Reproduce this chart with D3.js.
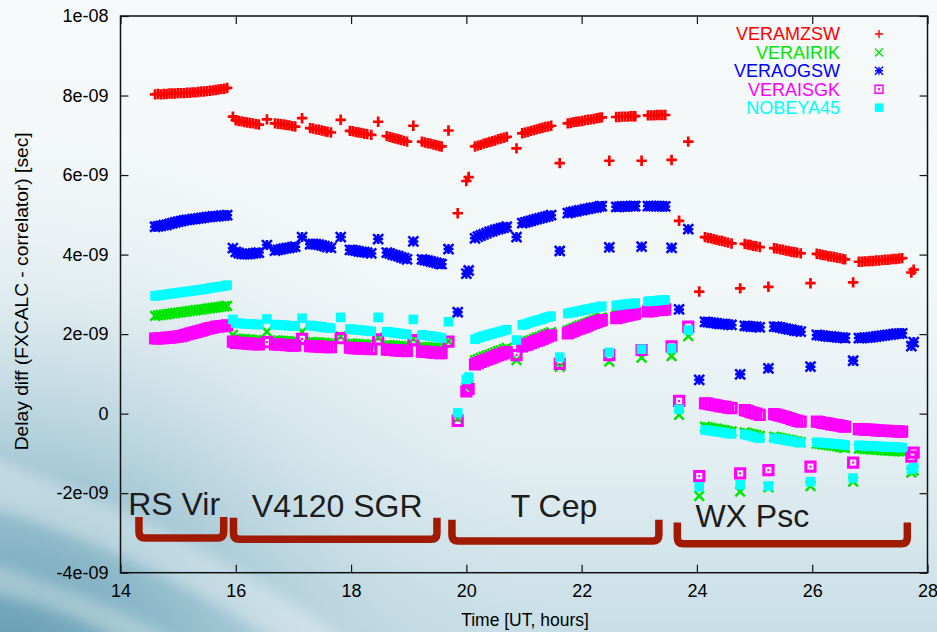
<!DOCTYPE html>
<html>
<head>
<meta charset="utf-8">
<script src="https://cdn.jsdelivr.net/npm/d3@7"></script>
<style>
  html, body { margin: 0; padding: 0; background: #f5f9fa; }
  svg { display: block; font-family: "Liberation Sans", Arial, Helvetica, sans-serif; }
</style>
</head>
<body>
<svg id="chart" width="937" height="632"></svg>
<script>
// Observation time (UT hours), shared by every baseline
const hours = [
  14.60,14.65,14.70,14.75,14.80,14.85,14.90,14.95,15.00,15.05,15.10,15.15,15.20,15.25,15.30,15.35,15.40,15.45,15.50,15.55,15.60,15.65,15.70,15.75,15.80,15.85,
  15.95,
  16.00,16.05,16.10,16.15,16.20,16.25,16.30,16.35,16.40,
  16.54,
  16.68,16.73,16.78,16.83,16.88,16.93,16.98,17.03,
  17.15,
  17.29,17.34,17.39,17.44,17.49,17.54,17.59,17.65,
  17.82,
  17.98,18.03,18.08,18.13,18.18,18.23,18.28,18.35,
  18.47,
  18.62,18.67,18.72,18.77,18.82,18.87,18.92,18.97,
  19.08,
  19.23,19.28,19.33,19.38,19.43,19.48,19.53,19.57,
  19.69,
  19.85,20.00,20.04,
  20.15,20.20,20.25,20.30,20.35,20.40,20.45,20.50,20.55,20.60,20.65,20.70,
  20.87,
  20.97,21.02,21.07,21.12,21.17,21.22,21.27,21.32,21.37,21.42,21.47,
  21.62,
  21.76,21.81,21.86,21.91,21.96,22.01,22.06,22.11,22.16,22.21,22.26,22.31,22.35,
  22.48,
  22.60,22.65,22.70,22.75,22.80,22.85,22.90,22.93,
  23.04,
  23.15,23.20,23.25,23.30,23.35,23.40,23.45,
  23.56,
  23.69,23.85,
  24.04,
  24.14,24.19,24.24,24.29,24.34,24.39,24.44,24.49,24.54,24.60,
  24.75,
  24.83,24.88,24.93,24.98,25.03,25.09,
  25.24,
  25.34,25.39,25.44,25.49,25.54,25.59,25.64,25.69,25.74,25.80,
  25.97,
  26.08,26.13,26.18,26.23,26.28,26.33,26.38,26.43,26.48,26.53,26.57,
  26.71,
  26.81,26.86,26.91,26.96,27.01,27.06,27.11,27.16,27.21,27.26,27.31,27.36,27.41,27.46,27.51,27.56,
  27.72,27.76
];

// Delay differences per station, in units of 1e-09 s
const veramzsw = [
  8.03,8.04,8.03,8.04,8.04,8.05,8.05,8.05,8.06,8.06,8.06,8.07,8.07,8.08,8.08,8.09,8.10,8.10,8.11,8.12,8.13,8.14,8.15,8.16,8.17,8.19,
  7.47,
  7.38,7.36,7.35,7.33,7.32,7.31,7.30,7.28,7.27,
  7.40,
  7.30,7.29,7.28,7.27,7.26,7.25,7.23,7.22,
  7.43,
  7.18,7.17,7.15,7.14,7.12,7.10,7.09,7.07,
  7.39,
  7.11,7.10,7.08,7.07,7.06,7.04,7.03,7.01,
  7.34,
  6.98,6.96,6.94,6.92,6.90,6.88,6.86,6.84,
  7.24,
  6.84,6.82,6.80,6.79,6.77,6.75,6.73,6.72,
  7.12,
  5.04,5.85,5.95,
  6.72,6.74,6.76,6.79,6.81,6.83,6.85,6.87,6.90,6.92,6.94,6.96,
  6.67,
  7.05,7.07,7.09,7.11,7.13,7.15,7.17,7.19,7.21,7.22,7.24,
  6.30,
  7.30,7.31,7.33,7.34,7.35,7.36,7.38,7.39,7.40,7.41,7.43,7.44,7.45,
  6.36,
  7.46,7.46,7.47,7.47,7.47,7.48,7.48,7.48,
  6.36,
  7.50,7.50,7.50,7.51,7.51,7.51,7.51,
  6.38,
  4.85,6.84,
  3.07,
  4.44,4.42,4.41,4.39,4.37,4.35,4.34,4.32,4.30,4.28,
  3.15,
  4.27,4.25,4.24,4.22,4.21,4.19,
  3.19,
  4.16,4.15,4.13,4.12,4.10,4.09,4.07,4.06,4.05,4.03,
  3.28,
  4.02,4.01,3.99,3.98,3.96,3.95,3.94,3.92,3.91,3.89,3.88,
  3.30,
  3.82,3.82,3.83,3.83,3.84,3.84,3.85,3.85,3.86,3.87,3.87,3.88,3.89,3.89,3.90,3.91,
  3.55,3.62
];

const verairik = [
  2.46,2.47,2.48,2.49,2.50,2.51,2.52,2.53,2.54,2.55,2.56,2.57,2.58,2.59,2.60,2.61,2.62,2.63,2.64,2.65,2.66,2.67,2.68,2.69,2.70,2.71,
  1.98,
  1.88,1.88,1.87,1.87,1.86,1.86,1.85,1.85,1.84,
  2.06,
  1.84,1.84,1.83,1.83,1.82,1.82,1.81,1.81,
  2.06,
  1.80,1.80,1.79,1.79,1.78,1.78,1.77,1.77,
  1.94,
  1.76,1.76,1.75,1.75,1.74,1.74,1.73,1.73,
  1.92,
  1.72,1.72,1.71,1.71,1.70,1.70,1.69,1.69,
  1.88,
  1.68,1.68,1.67,1.66,1.66,1.65,1.64,1.64,
  1.82,
  -0.12,0.66,0.72,
  1.34,1.37,1.40,1.43,1.46,1.48,1.51,1.54,1.57,1.59,1.62,1.65,
  1.35,
  1.77,1.80,1.82,1.85,1.88,1.91,1.93,1.96,1.99,2.02,2.05,
  1.18,
  2.09,2.12,2.15,2.18,2.21,2.23,2.26,2.29,2.32,2.35,2.37,2.40,2.42,
  1.31,
  2.47,2.49,2.51,2.52,2.54,2.55,2.57,2.58,
  1.41,
  2.63,2.64,2.65,2.65,2.66,2.66,2.67,
  1.45,
  -0.03,1.95,
  -2.07,
  -0.33,-0.34,-0.36,-0.37,-0.38,-0.40,-0.41,-0.42,-0.44,-0.45,
  -1.96,
  -0.47,-0.49,-0.51,-0.52,-0.54,-0.56,
  -1.85,
  -0.58,-0.60,-0.61,-0.63,-0.64,-0.66,-0.67,-0.69,-0.70,-0.72,
  -1.82,
  -0.75,-0.76,-0.77,-0.78,-0.79,-0.80,-0.81,-0.82,-0.84,-0.85,-0.86,
  -1.71,
  -0.88,-0.88,-0.89,-0.89,-0.90,-0.90,-0.91,-0.91,-0.92,-0.92,-0.93,-0.93,-0.94,-0.94,-0.95,-0.95,
  -1.48,-1.43
];

const veraogsw = [
  4.70,4.71,4.72,4.74,4.75,4.77,4.79,4.81,4.83,4.84,4.86,4.87,4.88,4.89,4.90,4.91,4.92,4.93,4.94,4.95,4.96,4.96,4.97,4.98,4.98,4.99,
  4.16,
  4.07,4.04,4.02,4.01,4.01,4.02,4.03,4.04,4.05,
  4.24,
  4.10,4.12,4.13,4.15,4.16,4.17,4.19,4.20,
  4.44,
  4.26,4.27,4.26,4.25,4.23,4.21,4.19,4.17,
  4.44,
  4.12,4.11,4.10,4.08,4.07,4.06,4.05,4.03,
  4.39,
  4.05,4.03,4.00,3.98,3.96,3.93,3.91,3.88,
  4.33,
  3.88,3.86,3.85,3.83,3.81,3.79,3.77,3.76,
  4.14,
  2.55,3.52,3.60,
  4.41,4.45,4.48,4.51,4.54,4.57,4.59,4.62,4.64,4.66,4.68,4.70,
  4.44,
  4.79,4.81,4.83,4.85,4.87,4.89,4.91,4.93,4.95,4.97,4.99,
  4.09,
  5.04,5.06,5.08,5.09,5.11,5.12,5.14,5.15,5.17,5.18,5.19,5.21,5.22,
  4.18,
  5.20,5.20,5.21,5.21,5.21,5.22,5.22,5.22,
  4.20,
  5.22,5.22,5.22,5.22,5.22,5.21,5.21,
  4.17,
  2.62,4.64,
  0.85,
  2.31,2.30,2.29,2.28,2.27,2.26,2.26,2.25,2.24,2.23,
  0.99,
  2.21,2.20,2.19,2.19,2.18,2.17,
  1.14,
  2.19,2.18,2.17,2.15,2.14,2.12,2.11,2.09,2.08,2.06,
  1.18,
  1.98,1.97,1.96,1.95,1.94,1.94,1.93,1.92,1.91,1.91,1.90,
  1.33,
  1.90,1.90,1.91,1.91,1.92,1.93,1.94,1.95,1.96,1.97,1.98,1.99,2.00,2.01,2.01,2.02,
  1.70,1.80
];

const veraisgk = [
  1.89,1.89,1.90,1.90,1.91,1.91,1.92,1.93,1.94,1.95,1.97,1.99,2.01,2.03,2.05,2.07,2.09,2.11,2.13,2.15,2.16,2.18,2.19,2.20,2.21,2.22,
  1.81,
  1.78,1.78,1.77,1.77,1.76,1.76,1.75,1.75,1.74,
  1.80,
  1.74,1.74,1.73,1.73,1.72,1.72,1.71,1.71,
  1.88,
  1.70,1.70,1.69,1.69,1.68,1.68,1.67,1.67,
  1.90,
  1.66,1.65,1.65,1.64,1.64,1.63,1.63,1.62,
  1.87,
  1.61,1.60,1.60,1.59,1.59,1.58,1.58,1.57,
  1.85,
  1.56,1.56,1.55,1.54,1.54,1.53,1.52,1.52,
  1.81,
  -0.18,0.56,0.62,
  1.24,1.27,1.30,1.33,1.36,1.38,1.41,1.44,1.47,1.49,1.52,1.55,
  1.47,
  1.69,1.72,1.74,1.77,1.80,1.83,1.85,1.88,1.91,1.94,1.97,
  1.25,
  2.02,2.05,2.08,2.11,2.14,2.16,2.19,2.22,2.25,2.28,2.30,2.33,2.35,
  1.47,
  2.40,2.42,2.44,2.46,2.47,2.49,2.50,2.52,
  1.60,
  2.57,2.58,2.59,2.60,2.61,2.61,2.62,
  1.69,
  0.32,2.19,
  -1.57,
  0.26,0.25,0.23,0.22,0.21,0.19,0.18,0.17,0.15,0.14,
  -1.50,
  0.09,0.07,0.04,0.02,0.00,-0.03,
  -1.42,
  -0.01,-0.03,-0.05,-0.07,-0.09,-0.11,-0.14,-0.16,-0.18,-0.20,
  -1.33,
  -0.20,-0.21,-0.23,-0.24,-0.25,-0.27,-0.28,-0.29,-0.30,-0.32,-0.33,
  -1.23,
  -0.39,-0.39,-0.40,-0.40,-0.41,-0.41,-0.42,-0.42,-0.43,-0.43,-0.43,-0.44,-0.44,-0.44,-0.45,-0.45,
  -1.08,-0.98
];

const nobeya45 = [
  2.96,2.97,2.98,2.99,3.00,3.01,3.02,3.03,3.04,3.05,3.06,3.07,3.08,3.09,3.10,3.11,3.12,3.13,3.14,3.16,3.17,3.18,3.19,3.20,3.21,3.23,
  2.37,
  2.28,2.27,2.27,2.26,2.26,2.25,2.25,2.24,2.24,
  2.38,
  2.24,2.23,2.23,2.22,2.22,2.21,2.21,2.20,
  2.40,
  2.22,2.21,2.20,2.19,2.18,2.17,2.16,2.15,
  2.42,
  2.13,2.12,2.11,2.10,2.10,2.09,2.08,2.07,
  2.42,
  2.06,2.05,2.04,2.03,2.02,2.01,2.00,1.99,
  2.37,
  1.98,1.97,1.96,1.95,1.94,1.93,1.91,1.90,
  2.31,
  0.02,0.86,0.92,
  1.87,1.90,1.93,1.95,1.97,1.99,2.01,2.03,2.05,2.07,2.09,2.11,
  1.85,
  2.23,2.25,2.27,2.30,2.32,2.34,2.36,2.38,2.41,2.43,2.45,
  1.42,
  2.52,2.54,2.55,2.57,2.58,2.60,2.61,2.63,2.64,2.66,2.67,2.69,2.70,
  1.54,
  2.72,2.73,2.74,2.75,2.76,2.76,2.77,2.78,
  1.62,
  2.82,2.83,2.83,2.84,2.85,2.85,2.86,
  1.64,
  0.11,2.10,
  -1.84,
  -0.41,-0.42,-0.43,-0.44,-0.45,-0.46,-0.47,-0.48,-0.50,-0.51,
  -1.79,
  -0.52,-0.54,-0.56,-0.58,-0.60,-0.62,
  -1.82,
  -0.62,-0.63,-0.64,-0.65,-0.67,-0.68,-0.69,-0.70,-0.72,-0.73,
  -1.71,
  -0.72,-0.73,-0.73,-0.74,-0.75,-0.75,-0.76,-0.77,-0.77,-0.78,-0.79,
  -1.62,
  -0.80,-0.80,-0.81,-0.81,-0.82,-0.82,-0.82,-0.83,-0.83,-0.83,-0.84,-0.84,-0.84,-0.85,-0.85,-0.85,
  -1.40,-1.36
];

const stations = ["VERAMZSW", "VERAIRIK", "VERAOGSW", "VERAISGK", "NOBEYA45"];
const stationDelays = [veramzsw, verairik, veraogsw, veraisgk, nobeya45];

// Target sources and the time span each was tracked
const sources = ["RS Vir", "V4120 SGR", "T Cep", "WX Psc"];
const sourceStart = [14.32, 15.96, 19.75, 23.66];
const sourceEnd = [15.79, 19.49, 23.34, 27.65];

// Axis ticks
const xTickValues = [14, 16, 18, 20, 22, 24, 26, 28];
const yTickValues = [-4, -2, 0, 2, 4, 6, 8, 10];
const yTickLabels = ["-4e-09", "-2e-09", "0", "2e-09", "4e-09", "6e-09", "8e-09", "1e-08"];

stationDelays.forEach((arr, i) => {
  if (arr.length !== hours.length) throw new Error(stations[i] + " has " + arr.length + " values, hours has " + hours.length);
});

// ---- styling ----
const stationColors = ["#ff0000", "#00e600", "#0000ff", "#ff00ff", "#00ffff"];
const markerKinds = ["plus", "cross", "star", "boxdot", "square"];
const markerSize = { plus: 5.2, cross: 4.8, star: 5.0, boxdot: 4.6, square: 4.8 };
const markerStroke = { plus: 2.7, cross: 2.5, star: 2.5, boxdot: 3.0, square: 0 };
const bracketColor = "#a01a02";
// bracket levels (delay units) and label placement per source
const bracketStyle = [
  { top: -2.60, bottom: -3.13, labelAt: 14.93, labelBase: -2.55 },
  { top: -2.62, bottom: -3.16, labelAt: 17.76, labelBase: -2.61 },
  { top: -2.67, bottom: -3.20, labelAt: 21.52, labelBase: -2.60 },
  { top: -2.74, bottom: -3.27, labelAt: 24.96, labelBase: -2.84 }
];

const W = 937, H = 632;
const plot = { left: 120.5, right: 927.5, top: 16, bottom: 572.7 };

const svg = d3.select("#chart");
const defs = svg.append("defs");

// ---- slide-style background ----
const bgFade = defs.append("linearGradient").attr("id", "bgFade")
  .attr("x1", 0).attr("y1", 0).attr("x2", 0).attr("y2", 1);
[[0, "#f6f9fa"], [0.45, "#f2f7f8"], [0.72, "#e2eef2"], [1, "#c8dee6"]].forEach(([o, c]) =>
  bgFade.append("stop").attr("offset", o).attr("stop-color", c));

const corner = defs.append("radialGradient").attr("id", "bgCorner")
  .attr("gradientUnits", "userSpaceOnUse").attr("cx", 0).attr("cy", 690).attr("r", 560);
[[0, "#4a8aa3", 0.9], [0.35, "#6fa6bb", 0.6], [0.7, "#a9cad6", 0.25], [1, "#c8dee6", 0]].forEach(([o, c, a]) =>
  corner.append("stop").attr("offset", o).attr("stop-color", c).attr("stop-opacity", a));

const soft = defs.append("filter").attr("id", "soft").attr("x", "-20%").attr("y", "-20%").attr("width", "140%").attr("height", "140%");
soft.append("feGaussianBlur").attr("stdDeviation", 7);

svg.append("rect").attr("width", W).attr("height", H).attr("fill", "url(#bgFade)");
svg.append("rect").attr("width", W).attr("height", H).attr("fill", "url(#bgCorner)");
svg.append("path")
  .attr("d", "M-20,455 C110,500 240,560 360,650 L290,650 C190,585 90,535 -20,505 Z")
  .attr("fill", "#ffffff").attr("opacity", 0.35).attr("filter", "url(#soft)");
svg.append("path")
  .attr("d", "M-20,560 C60,585 130,610 190,650 L140,650 C90,620 30,600 -20,590 Z")
  .attr("fill", "#ffffff").attr("opacity", 0.3).attr("filter", "url(#soft)");

// ---- scales ----
const x = d3.scaleLinear().domain([14, 28]).range([plot.left, plot.right]);
const y = d3.scaleLinear().domain([-4, 10]).range([plot.bottom, plot.top]);

// ---- axes (inward ticks, mirrored on top/right) ----
const tickFont = 18;
const gx = svg.append("g").attr("transform", `translate(0,${plot.bottom})`)
  .call(d3.axisBottom(x).tickValues(xTickValues).tickFormat(d3.format("d"))
    .tickSizeInner(-8).tickSizeOuter(0).tickPadding(12));
const gy = svg.append("g").attr("transform", `translate(${plot.left},0)`)
  .call(d3.axisLeft(y).tickValues(yTickValues).tickFormat((d, i) => yTickLabels[i])
    .tickSizeInner(-8).tickSizeOuter(0).tickPadding(12));
const gxt = svg.append("g").attr("transform", `translate(0,${plot.top})`)
  .call(d3.axisTop(x).tickValues(xTickValues).tickFormat("").tickSizeInner(-8).tickSizeOuter(0));
const gyr = svg.append("g").attr("transform", `translate(${plot.right},0)`)
  .call(d3.axisRight(y).tickValues(yTickValues).tickFormat("").tickSizeInner(-8).tickSizeOuter(0));

[gx, gy, gxt, gyr].forEach(g => {
  g.select(".domain").remove();
  g.selectAll(".tick line").attr("stroke", "#111").attr("stroke-width", 1.2);
  g.selectAll(".tick text").attr("fill", "#000").attr("font-size", tickFont)
    .attr("font-family", '"Liberation Sans", Arial, sans-serif');
});

svg.append("rect")
  .attr("x", plot.left).attr("y", plot.top)
  .attr("width", plot.right - plot.left).attr("height", plot.bottom - plot.top)
  .attr("fill", "none").attr("stroke", "#111").attr("stroke-width", 1.5);

// axis titles
svg.append("text")
  .attr("x", (plot.left + plot.right) / 2 + 1).attr("y", 626)
  .attr("text-anchor", "middle").attr("font-size", 17.5).attr("fill", "#000")
  .text("Time [UT, hours]");
svg.append("text")
  .attr("transform", `translate(27.5,${(plot.top + plot.bottom) / 2 - 3}) rotate(-90)`)
  .attr("text-anchor", "middle").attr("font-size", 18).attr("fill", "#000")
  .attr("textLength", 318).attr("lengthAdjust", "spacingAndGlyphs")
  .text("Delay diff (FXCALC - correlator) [sec]");

// ---- marker shapes ----
function markerPath(kind, s) {
  const plus = `M${-s},0H${s}M0,${-s}V${s}`;
  const cross = `M${-s},${-s}L${s},${s}M${-s},${s}L${s},${-s}`;
  switch (kind) {
    case "plus": return plus;
    case "cross": return cross;
    case "star": return plus + cross;
    case "boxdot": return `M${-s},${-s}H${s}V${s}H${-s}Z`;
    case "square": return `M${-s},${-s}H${s}V${s}H${-s}Z`;
  }
}
function drawMarker(sel, kind, color, s, sw) {
  const filled = kind === "square";
  sel.append("path")
    .attr("d", markerPath(kind, s))
    .attr("fill", filled ? color : "none")
    .attr("stroke", filled ? "none" : color)
    .attr("stroke-width", sw);
  if (kind === "boxdot") {
    sel.append("rect").attr("x", -1).attr("y", -1).attr("width", 2).attr("height", 2).attr("fill", color);
  }
}

// ---- scatter points, drawn station by station ----
const pointsLayer = svg.append("g");
stations.forEach((name, i) => {
  const pts = hours.map((h, j) => [h, stationDelays[i][j]]);
  const k = markerKinds[i];
  const g = pointsLayer.append("g").attr("class", "station");
  g.selectAll("g").data(pts).join("g")
    .attr("transform", d => `translate(${x(d[0])},${y(d[1])})`)
    .each(function () {
      drawMarker(d3.select(this), k, stationColors[i], markerSize[k], markerStroke[k]);
    });
});

// ---- legend ----
const legend = svg.append("g");
stations.forEach((name, i) => {
  const cy = 34 + i * 18.4;
  legend.append("text")
    .attr("x", 840).attr("y", cy).attr("dy", "0.36em")
    .attr("text-anchor", "end").attr("font-size", 18)
    .attr("fill", stationColors[i]).text(name);
  const m = legend.append("g").attr("transform", `translate(879,${cy})`);
  const k = markerKinds[i];
  drawMarker(m, k, stationColors[i], k === "square" ? 4.2 : 4, 1.4);
});

// ---- source brackets and names ----
const annot = svg.append("g");
sources.forEach((name, i) => {
  const st = bracketStyle[i];
  const x0 = x(sourceStart[i]), x1 = x(sourceEnd[i]);
  const yt = y(st.top), yb = y(st.bottom);
  const r = 6;
  const p = d3.path();
  p.moveTo(x0, yt);
  p.lineTo(x0, yb - r);
  p.quadraticCurveTo(x0, yb, x0 + r, yb);
  p.lineTo(x1 - r, yb);
  p.quadraticCurveTo(x1, yb, x1, yb - r);
  p.lineTo(x1, yt);
  annot.append("path").attr("d", p.toString())
    .attr("fill", "none").attr("stroke", bracketColor)
    .attr("stroke-width", 7.5).attr("stroke-linejoin", "round").attr("stroke-linecap", "butt");
  annot.append("text")
    .attr("x", x(st.labelAt)).attr("y", y(st.labelBase))
    .attr("text-anchor", "middle").attr("font-size", 32).attr("fill", "#1c1c1c")
    .text(name);
});
</script>
</body>
</html>
